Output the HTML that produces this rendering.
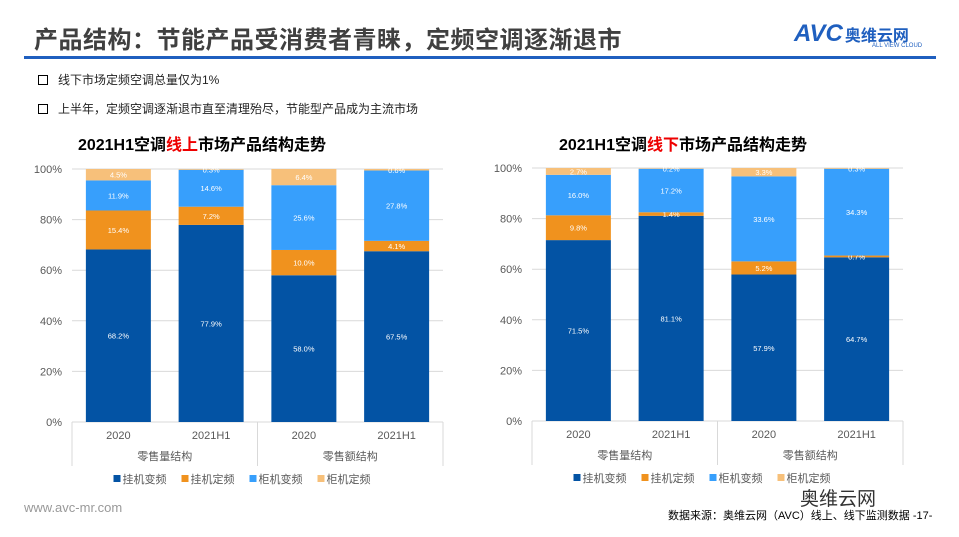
<!DOCTYPE html>
<html><head><meta charset="utf-8">
<style>
body{margin:0;width:959px;height:537px;background:#fff;overflow:hidden;font-family:"Liberation Sans","Noto Sans CJK SC",sans-serif;position:relative}
.abs{position:absolute}
</style></head><body>
<div class="abs" style="left:34px;top:20px;font-size:24px;font-weight:bold;color:#404040;letter-spacing:0.5px">产品结构：节能产品受消费者青睐，定频空调逐渐退市</div>
<div class="abs" style="left:794px;top:20px;font-size:24px;font-weight:bold;font-style:italic;color:#1f5fbf">AVC<span style="font-size:16px;font-style:normal;color:#1f5fbf;margin-left:2px">奥维云网</span></div>
<div class="abs" style="left:872px;top:43px;font-size:6px;color:#1f5fbf">ALL VIEW CLOUD</div>
<div class="abs" style="left:24px;top:56px;width:912px;height:3px;background:#1f5fbf"></div>
<div class="abs" style="left:38px;top:71px;font-size:12px;color:#222"><span style="display:inline-block;width:8px;height:8px;border:1.5px solid #000;margin-right:10px;vertical-align:-1px"></span>线下市场定频空调总量仅为1%</div>
<div class="abs" style="left:38px;top:100px;font-size:12px;color:#222"><span style="display:inline-block;width:8px;height:8px;border:1.5px solid #000;margin-right:10px;vertical-align:-1px"></span>上半年，定频空调逐渐退市直至清理殆尽，节能型产品成为主流市场</div>
<div class="abs" style="left:5px;width:394px;top:131px;text-align:center;font-size:16px;font-weight:bold;color:#000">2021H1空调<span style="color:#e00">线上</span>市场产品结构走势</div>
<div class="abs" style="left:486px;width:394px;top:131px;text-align:center;font-size:16px;font-weight:bold;color:#000">2021H1空调<span style="color:#e00">线下</span>市场产品结构走势</div>
<svg class="abs" style="left:0;top:0" width="959" height="537" id="svg"></svg>
<div class="abs" style="left:24px;top:500px;font-size:13px;color:#999">www.avc-mr.com</div>
<div class="abs" style="left:800px;top:484px;font-size:19px;color:#333">奥维云网</div>
<div class="abs" style="left:668px;top:507px;font-size:11px;color:#000">数据来源：奥维云网（AVC）线上、线下监测数据 -17-</div>
<script>
const categories=["2020","2021H1","2020","2021H1"];
const groups=["零售量结构","零售额结构"];
const seriesNames=["挂机变频","挂机定频","柜机变频","柜机定频"];
const colors=["#0353a4","#f0921e","#379ffc","#f7c07a"];
const onlineWallInv=[68.2,77.9,58.0,67.5];
const onlineWallFix=[15.4,7.2,10.0,4.1];
const onlineFloorInv=[11.9,14.6,25.6,27.8];
const onlineFloorFix=[4.5,0.3,6.4,0.6];
const offlineWallInv=[71.5,81.1,57.9,64.7];
const offlineWallFix=[9.8,1.4,5.2,0.7];
const offlineFloorInv=[16.0,17.2,33.6,34.3];
const offlineFloorFix=[2.7,0.2,3.3,0.3];
const yTicks=[0,20,40,60,80,100];
const NS="http://www.w3.org/2000/svg";
const svg=document.getElementById('svg');
function mk(tag,attrs,text){const e=document.createElementNS(NS,tag);for(const k in attrs)e.setAttribute(k,attrs[k]);if(text!==undefined)e.textContent=text;svg.appendChild(e);return e;}
function chart(cfg,series,prefix){
  const {x0,x1,y0,y100,bw}=cfg;
  const y=v=>y0-(y0-y100)*v/100;
  yTicks.forEach(t=>{
    const l=mk('line',{x1:x0,x2:x1,y1:y(t),y2:y(t),stroke:'#d9d9d9','stroke-width':1});
    
    
    const tx=mk('text',{x:x0-10,y:y(t)+4,'text-anchor':'end','font-size':11,fill:'#595959'},t+'%');
    
    
  });
  const step=(x1-x0)/categories.length;
  categories.forEach((c,i)=>{
    let acc=0;
    const cx=x0+step*(i+0.5);
    series.forEach((s,k)=>{
      const v=s[i];
      const r=mk('rect',{x:cx-bw/2,y:y(acc+v),width:bw,height:y(acc)-y(acc+v),fill:colors[k]});
      
      
      const t=mk('text',{x:cx,y:y(acc+v/2)+3,'text-anchor':'middle','font-size':7.5,fill:'#fff'},v.toFixed(1)+'%');
      
      
      acc+=v;
    });
    const cl=mk('text',{x:cx,y:y0+17,'text-anchor':'middle','font-size':11,fill:'#595959'},c);
    
    
  });
  const mid=(x0+x1)/2;
  [x0,mid,x1].forEach((xx,j)=>{
    const l=mk('line',{x1:xx,x2:xx,y1:y0,y2:y0+44,stroke:'#d9d9d9'});
    
    
  });
  groups.forEach((g,j)=>{
    const t=mk('text',{x:x0+(x1-x0)*(j*0.5+0.25),y:y0+38,'text-anchor':'middle','font-size':11,fill:'#595959'},g);
    
    
  });
  let lx=x0+(x1-x0)/2-144;
  seriesNames.forEach((n,k)=>{
    const r=mk('rect',{x:lx,y:y0+53,width:7,height:7,fill:colors[k]});
    
    
    const t=mk('text',{x:lx+9,y:y0+61,'font-size':11,fill:'#595959'},n);
    
    
    lx+=68;
  });
}
chart({x0:72,x1:443,y0:422,y100:169,bw:65},[onlineWallInv,onlineWallFix,onlineFloorInv,onlineFloorFix],'online');
chart({x0:532,x1:903,y0:421,y100:168,bw:65},[offlineWallInv,offlineWallFix,offlineFloorInv,offlineFloorFix],'offline');
</script>
</body></html>
